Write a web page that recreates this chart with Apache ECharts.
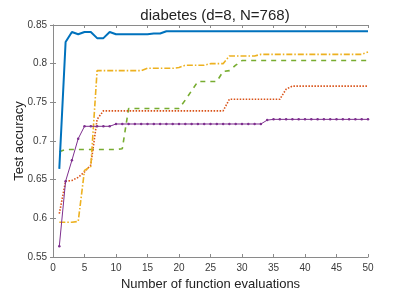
<!DOCTYPE html>
<html><head><meta charset="utf-8">
<script src="https://cdn.jsdelivr.net/npm/echarts@6/dist/echarts.min.js"></script>
<style>html,body{margin:0;padding:0;background:#fff}#c{width:407px;height:291px}</style>
</head><body><div id="c"></div>
<script>
const evals = [1,2,3,4,5,6,7,8,9,10,11,12,13,14,15,16,17,18,19,20,21,22,23,24,25,26,27,28,29,30,31,32,33,34,35,36,37,38,39,40,41,42,43,44,45,46,47,48,49,50];
const blueVals = [0.664,0.828,0.841,0.838,0.841,0.841,0.833,0.833,0.841,0.838,0.838,0.838,0.838,0.838,0.838,0.839,0.839,0.842,0.842,0.842,0.842,0.842,0.842,0.842,0.842,0.842,0.842,0.842,0.842,0.842,0.842,0.842,0.842,0.842,0.842,0.842,0.842,0.842,0.842,0.842,0.842,0.842,0.842,0.842,0.842,0.842,0.842,0.842,0.842,0.842];
const orangeVals = [0.595,0.595,0.595,0.596,0.662,0.667,0.791,0.791,0.791,0.791,0.791,0.791,0.791,0.791,0.794,0.794,0.794,0.794,0.794,0.795,0.798,0.798,0.798,0.798,0.800,0.800,0.800,0.810,0.810,0.810,0.810,0.810,0.812,0.812,0.812,0.812,0.812,0.812,0.812,0.812,0.812,0.812,0.812,0.812,0.812,0.812,0.812,0.812,0.812,0.815];
const greenVals = [0.686,0.689,0.689,0.689,0.689,0.689,0.689,0.689,0.689,0.689,0.690,0.742,0.742,0.742,0.742,0.742,0.742,0.742,0.742,0.742,0.753,0.765,0.777,0.777,0.777,0.777,0.790,0.791,0.798,0.804,0.804,0.804,0.804,0.804,0.804,0.804,0.804,0.804,0.804,0.804,0.804,0.804,0.804,0.804,0.804,0.804,0.804,0.804,0.804,0.804];
const redVals = [0.606,0.648,0.649,0.653,0.660,0.669,0.728,0.739,0.739,0.739,0.739,0.739,0.739,0.739,0.739,0.739,0.739,0.739,0.739,0.739,0.739,0.739,0.739,0.739,0.739,0.739,0.739,0.754,0.754,0.754,0.754,0.754,0.754,0.754,0.754,0.754,0.767,0.771,0.771,0.771,0.771,0.771,0.771,0.771,0.771,0.771,0.771,0.771,0.771,0.771];
const purpleVals = [0.564,0.648,0.675,0.703,0.719,0.719,0.719,0.719,0.719,0.722,0.722,0.722,0.722,0.722,0.722,0.722,0.722,0.722,0.722,0.722,0.722,0.722,0.722,0.722,0.722,0.722,0.722,0.722,0.722,0.722,0.722,0.722,0.722,0.727,0.728,0.728,0.728,0.728,0.728,0.728,0.728,0.728,0.728,0.728,0.728,0.728,0.728,0.728,0.728,0.728];
const titleText = 'diabetes (d=8, N=768)';
const xName = 'Number of function evaluations';
const yName = 'Test accuracy';

const pairs = v => evals.map((x, i) => [x, v[i]]);
const FONT = 'Liberation Sans';
const axisCol = '#8a8a8a';
const labCol = '#3a3a3a';

const chart = echarts.init(document.getElementById('c'), null, {renderer: 'canvas'});
chart.setOption({
  animation: false,
  title: {text: titleText, left: 210, top: 3, textAlign: 'center',
    textStyle: {fontFamily: FONT, fontSize: 15, fontWeight: 'normal', color: '#222'}},
  grid: {left: 53, right: 39, top: 25, bottom: 34, show: false, containLabel: false, outerBoundsMode: 'none'},
  xAxis: [{
    type: 'value', min: 0, max: 50, interval: 5,
    name: xName, nameLocation: 'middle', nameGap: 20,
    nameTextStyle: {fontFamily: FONT, fontSize: 13, color: '#222'},
    axisLine: {show: true, lineStyle: {color: axisCol, width: 1}},
    axisTick: {show: true, inside: true, length: 3, lineStyle: {color: axisCol}},
    axisLabel: {fontFamily: FONT, fontSize: 10, color: labCol, margin: 6},
    splitLine: {show: false}
  }, {
    type: 'value', min: 0, max: 50, interval: 5, position: 'top',
    axisLine: {show: true, lineStyle: {color: axisCol, width: 1}},
    axisTick: {show: true, inside: true, length: 3, lineStyle: {color: axisCol}},
    axisLabel: {show: false}, splitLine: {show: false}
  }],
  yAxis: [{
    type: 'value', min: 0.55, max: 0.85, interval: 0.05,
    name: yName, nameLocation: 'middle', nameGap: 27, nameRotate: 90, nameMoveOverlap: false,
    nameTextStyle: {fontFamily: FONT, fontSize: 13, color: '#222'},
    axisLine: {show: true, lineStyle: {color: axisCol, width: 1}},
    axisTick: {show: true, inside: true, length: 3, lineStyle: {color: axisCol}},
    axisLabel: {fontFamily: FONT, fontSize: 10, color: labCol, margin: 6,
      formatter: v => String(parseFloat(v.toFixed(2)))},
    splitLine: {show: false}
  }, {
    type: 'value', min: 0.55, max: 0.85, interval: 0.05, position: 'right',
    axisLine: {show: true, lineStyle: {color: axisCol, width: 1}},
    axisTick: {show: true, inside: true, length: 3, lineStyle: {color: axisCol}},
    axisLabel: {show: false}, splitLine: {show: false}
  }],
  series: [
    {type: 'line', data: pairs(greenVals), showSymbol: false, symbol: 'none',
      lineStyle: {color: '#77AC30', width: 1.6, type: [5, 5]}},
    {type: 'line', data: pairs(redVals), showSymbol: false, symbol: 'none',
      lineStyle: {color: '#D95319', width: 1.6, type: [1.5, 1.5]}},
    {type: 'line', data: pairs(orangeVals), showSymbol: false, symbol: 'none',
      lineStyle: {color: '#EDB120', width: 1.6, type: [6, 2, 1.5, 2]}},
    {type: 'line', data: pairs(purpleVals), symbol: 'circle', symbolSize: 2.5, showSymbol: true,
      itemStyle: {color: '#7E2F8E'},
      lineStyle: {color: '#7E2F8E', width: 1}},
    {type: 'line', data: pairs(blueVals), showSymbol: false, symbol: 'none',
      lineStyle: {color: '#0072BD', width: 2}}
  ]
});
</script></body></html>
